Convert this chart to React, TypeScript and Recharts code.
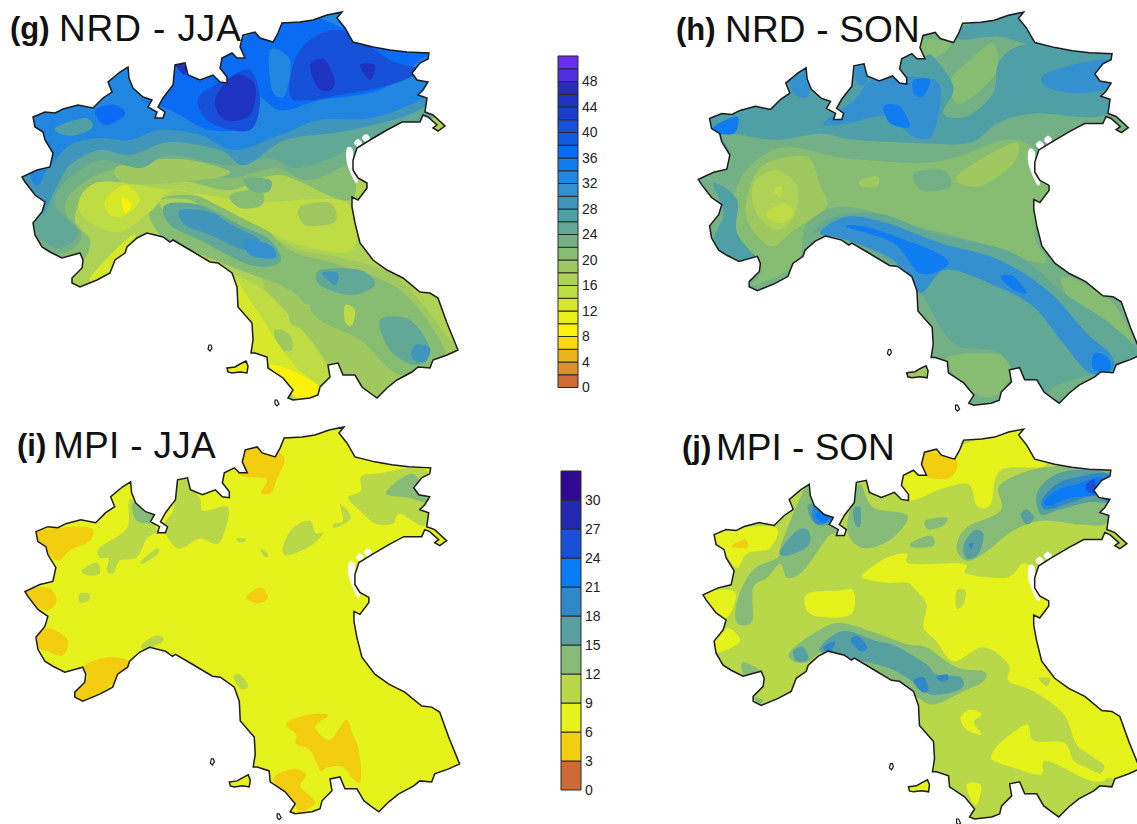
import { BarChart, Bar, XAxis, YAxis, ScatterChart, Scatter } from "recharts"

// scale bands, lowest first
const nrdBands = ["#cf6b35", "#dc8f2a", "#ecb41c", "#f8d90e", "#fbf10a", "#e8ef1a", "#d6e82a", "#bfdc45", "#aed255", "#9fc860", "#86bd72", "#74b086", "#62a896", "#4f9fa6", "#4095bb", "#3590cf", "#2186e0", "#0f7cf0", "#0a6bf5", "#0f5ce0", "#1650d8", "#1a40c8", "#1e34c0", "#2a2ab8", "#5030dc", "#6a2cf4"]
const nrdTicks = [0, 4, 8, 12, 16, 20, 24, 28, 32, 36, 40, 44, 48]
const mpiBands = ["#cd6b38", "#f2cd10", "#e6f21c", "#b8d84a", "#86bc78", "#58a0a0", "#3188c8", "#0a7af5", "#1a50d8", "#2428b0", "#300a90"]
const mpiTicks = [0, 3, 6, 9, 12, 15, 18, 21, 24, 27, 30]

// coastline and border, map units
const mainland = [[33,117],[45,112],[55,113],[63,109],[78,105],[93,108],[103,98],[112,92],[108,82],[120,72],[128,67],[129,78],[133,88],[143,97],[152,100],[148,107],[157,112],[155,118],[163,118],[165,112],[158,107],[163,98],[173,85],[175,65],[185,63],[188,75],[200,80],[213,75],[220,82],[227,83],[227,77],[220,68],[222,58],[232,53],[237,58],[245,58],[240,47],[243,35],[255,32],[260,38],[273,42],[278,33],[282,23],[300,22],[313,20],[327,15],[342,12],[337,18],[345,28],[353,42],[373,47],[390,50],[407,52],[429,53],[428,59],[420,63],[412,73],[417,80],[428,82],[423,90],[418,95],[427,98],[425,112],[433,115],[445,126],[438,131],[433,128],[437,125],[428,117],[423,115],[420,122],[402,122],[387,130],[370,140],[357,148],[353,160],[353,170],[358,178],[367,183],[367,188],[358,200],[352,197],[352,207],[355,223],[360,243],[373,260],[387,270],[403,278],[420,292],[430,293],[438,298],[447,323],[458,350],[447,355],[433,360],[430,368],[418,367],[412,372],[397,380],[387,388],[377,398],[370,393],[362,387],[355,375],[343,375],[338,363],[328,365],[330,377],[320,387],[318,395],[310,398],[293,400],[288,398],[293,390],[283,378],[268,368],[267,357],[255,353],[251,353],[253,340],[252,323],[238,307],[237,287],[232,273],[218,263],[210,262],[190,250],[173,240],[170,242],[163,237],[147,233],[137,238],[127,247],[125,253],[115,260],[110,273],[97,280],[80,287],[72,283],[72,278],[82,268],[83,260],[80,253],[62,258],[50,252],[42,247],[35,235],[33,223],[42,212],[45,202],[35,195],[25,182],[22,177],[37,170],[50,167],[53,153],[45,140],[43,132],[35,127]]
const elba = [[227,368],[235,367],[240,364],[246,361],[248,366],[247,373],[240,372],[232,373],[228,372]]
const pianosa = [[209,345],[211,345],[212,348],[210,351],[208,349]]
const montecristo = [[275,400],[277,400],[279,404],[277,406],[275,404]]
const lagoonWest = [[347,148],[353,150],[353,170],[358,180],[355,182],[347,163]]
const lagoonA = [[358,139],[362,143],[358,147],[354,143]]
const lagoonB = [[366,134],[370,138],[366,142],[362,138]]

const nrdJja = [
  [18, [[255,235],[300,250],[350,260],[400,280],[450,340],[460,352],[420,375],[380,400],[340,378],[300,330],[270,300]]],
  [18, [[20,230],[60,215],[85,235],[80,265],[40,262]]],
  [20, [[0,230],[40,265],[80,262],[90,240],[75,222],[85,198],[130,180],[180,180],[230,190],[280,175],[350,200],[365,145],[460,100],[460,0],[0,0]]],
  [20, [[150,205],[190,195],[250,215],[290,250],[340,265],[400,290],[440,340],[440,360],[400,375],[360,340],[320,320],[290,290],[240,270],[190,250],[160,235]]],
  [14, [[100,182],[170,190],[200,194],[260,202],[345,202],[352,250],[300,245],[250,222],[180,190],[150,212],[120,232],[90,222],[78,204]]],
  [14, [[130,245],[160,238],[230,272],[275,300],[330,372],[300,398],[250,350],[238,300],[210,262],[110,278]]],
  [16, [[160,200],[190,200],[200,212],[170,215]]],
  [20, [[230,195],[260,190],[262,205],[240,208]]],
  [18, [[300,207],[330,203],[335,222],[305,225]]],
  [18, [[290,310],[310,305],[305,325],[292,325]]],
  [18, [[320,340],[340,335],[345,350],[325,352]]],
  [18, [[275,330],[290,335],[292,350],[278,348]]],
  [12, [[105,200],[125,185],[140,200],[125,215],[110,215]]],
  [12, [[90,278],[115,250],[135,235],[125,260],[110,272],[98,282]]],
  [12, [[235,280],[250,300],[290,360],[320,390],[300,400],[270,365],[250,345],[240,310]]],
  [14, [[345,305],[355,310],[352,325],[345,322]]],
  [8, [[270,365],[295,372],[320,388],[300,400],[285,385]]],
  [8, [[122,198],[132,204],[125,213]]],
  [22, [[0,212],[38,248],[65,253],[82,235],[65,212],[74,190],[110,170],[145,175],[175,168],[230,178],[275,168],[310,180],[358,158],[430,115],[460,100],[460,0],[0,0]]],
  [18, [[115,168],[150,160],[190,160],[230,172],[200,180],[130,184]]],
  [22, [[245,178],[270,180],[268,192],[250,190]]],
  [24, [[0,200],[35,235],[60,248],[78,232],[55,205],[65,182],[100,160],[140,168],[170,155],[230,165],[270,158],[300,168],[355,148],[420,122],[460,100],[460,0],[0,0]]],
  [24, [[165,205],[200,205],[240,225],[270,240],[280,262],[250,265],[200,240],[170,225]]],
  [24, [[380,320],[410,320],[430,350],[415,365],[390,350]]],
  [24, [[320,270],[360,270],[375,285],[350,295],[320,285]]],
  [28, [[0,0],[15,190],[40,215],[55,190],[70,165],[100,150],[130,155],[170,142],[220,150],[245,165],[285,140],[340,132],[400,118],[430,105],[460,95],[460,0]]],
  [28, [[180,210],[210,212],[232,225],[260,240],[245,250],[210,235],[185,225]]],
  [30, [[245,240],[270,245],[275,258],[250,255]]],
  [28, [[322,273],[338,273],[335,285]]],
  [28, [[415,345],[430,348],[425,362],[412,358]]],
  [32, [[0,0],[30,175],[50,165],[70,145],[100,138],[130,140],[160,130],[200,135],[235,150],[280,135],[320,120],[370,118],[420,100],[460,70],[460,0]]],
  [26, [[55,128],[85,118],[92,128],[70,136]]],
  [36, [[140,100],[170,110],[210,130],[245,125],[250,90],[280,110],[320,100],[380,90],[420,60],[430,50],[350,30],[300,15],[240,40],[225,55],[200,75],[175,70],[160,100]]],
  [36, [[95,110],[115,105],[125,115],[105,125]]],
  [40, [[200,95],[225,80],[250,70],[260,100],[250,130],[215,125],[200,110]]],
  [40, [[290,95],[300,50],[340,30],[390,60],[420,70],[390,85],[340,95],[310,100]]],
  [32, [[270,50],[290,60],[285,95],[272,90]]],
  [44, [[215,100],[235,75],[255,85],[250,115],[225,120]]],
  [44, [[310,65],[325,60],[335,85],[320,90]]],
  [44, [[360,65],[375,65],[370,80]]],
  [44, [[175,65],[185,65],[185,75]]],
]

const nrdSon = [
  [20, [[60,184],[83,155],[112,145],[158,155],[188,158],[240,161],[276,155],[325,138],[352,148],[368,188],[352,230],[365,257],[345,257],[299,240],[240,224],[168,204],[129,220],[119,260],[73,283],[83,266],[53,230]]],
  [22, [[234,171],[263,168],[270,184],[243,188]]],
  [20, [[286,313],[309,303],[332,316],[325,336],[293,339]]],
  [20, [[266,355],[299,349],[332,355],[319,388],[293,388]]],
  [20, [[381,273],[427,296],[450,339],[427,336],[391,303]]],
  [20, [[270,79],[293,56],[312,43],[316,69],[293,95],[276,102]]],
  [20, [[243,39],[270,43],[257,56],[243,54]]],
  [18, [[73,184],[89,161],[129,155],[142,184],[148,204],[116,227],[93,243],[70,217]]],
  [18, [[276,174],[332,141],[332,161],[299,184]]],
  [18, [[181,178],[198,174],[198,184],[183,184]]],
  [16, [[76,181],[99,168],[119,184],[116,214],[99,227],[79,210]]],
  [14, [[89,210],[106,201],[116,210],[106,220],[93,217]]],
  [14, [[96,187],[104,184],[102,194]]],
  [26, [[24,174],[53,155],[47,132],[96,138],[142,132],[175,138],[234,141],[289,141],[316,122],[352,112],[424,112],[429,56],[352,43],[319,59],[312,92],[286,115],[263,112],[273,86],[253,56],[243,56],[227,53],[181,62],[129,66],[47,109],[34,122]]],
  [26, [[283,26],[342,13],[352,43],[316,36],[280,39]]],
  [26, [[37,181],[47,211],[37,240],[63,257],[83,260],[60,230],[60,197]]],
  [24, [[135,230],[155,214],[201,211],[253,230],[332,250],[381,289],[430,322],[454,355],[381,378],[348,395],[319,349],[273,339],[240,289],[201,253],[148,230]]],
  [30, [[142,230],[168,214],[207,220],[260,240],[319,257],[368,289],[404,329],[427,349],[430,365],[407,368],[381,339],[352,303],[316,283],[266,266],[240,289],[214,257],[168,237]]],
  [34, [[168,224],[188,224],[234,240],[263,253],[266,263],[240,270],[214,240]]],
  [34, [[319,273],[332,273],[345,289],[332,286]]],
  [34, [[411,349],[424,352],[427,365],[411,365]]],
  [30, [[145,122],[175,99],[194,79],[237,76],[260,86],[253,132],[234,135],[207,115],[168,122]]],
  [30, [[365,72],[424,59],[425,86],[394,92],[365,86]]],
  [30, [[112,76],[129,67],[130,95],[116,92]]],
  [30, [[176,66],[186,64],[188,82],[178,82]]],
  [34, [[37,125],[60,115],[58,131],[43,132]]],
  [34, [[234,79],[250,79],[243,95],[234,92]]],
  [34, [[204,105],[220,105],[230,125],[211,122]]],
]

const mpiJja = [
  [3, [[15,121],[47,114],[87,113],[87,126],[67,136],[55,146],[37,133]]],
  [3, [[15,178],[44,173],[54,186],[44,196],[30,190]]],
  [3, [[30,220],[47,214],[65,226],[60,241],[47,238],[30,231]]],
  [3, [[82,251],[107,243],[127,248],[114,266],[94,280],[66,290],[72,276],[85,263]]],
  [3, [[244,30],[281,41],[274,66],[269,78],[259,78],[264,64],[236,59]]],
  [3, [[244,183],[258,173],[266,183],[256,189]]],
  [3, [[284,310],[304,301],[326,301],[313,313],[328,326],[344,306],[351,321],[356,333],[359,353],[358,368],[351,365],[341,353],[326,353],[318,356],[308,336],[294,330],[294,320]]],
  [3, [[271,365],[291,355],[304,361],[298,373],[313,388],[298,398],[288,383]]],
  [9, [[97,133],[124,114],[126,89],[131,86],[154,114],[144,124],[134,143],[117,146],[111,159],[104,156],[106,144],[97,143]]],
  [9, [[79,156],[94,148],[97,159],[86,161]]],
  [9, [[77,179],[86,179],[86,186],[77,188]]],
  [9, [[162,109],[171,94],[177,60],[197,83],[201,96],[226,93],[217,128],[197,124],[177,134],[164,121]]],
  [9, [[139,146],[154,134],[156,139],[141,149]]],
  [9, [[281,131],[291,113],[308,106],[313,118],[321,119],[306,133],[284,141]]],
  [9, [[346,83],[359,76],[359,62],[374,59],[424,55],[432,99],[421,111],[398,99],[391,109],[374,109],[358,96]]],
  [9, [[338,89],[349,103],[334,113],[331,109],[341,106]]],
  [9, [[139,231],[154,221],[161,226],[144,236]]],
  [9, [[231,263],[237,260],[246,271],[239,275]]],
  [9, [[258,134],[266,139],[263,143]]],
  [9, [[234,124],[244,124],[239,128]]],
  [12, [[131,88],[152,99],[154,108],[134,106]]],
  [12, [[384,78],[411,59],[425,86],[406,83]]],
]

const mpiSon = [
  [6, [[222,57],[242,35],[282,27],[342,10],[365,47],[319,53],[309,87],[295,88],[287,67],[259,72],[232,83],[222,77]]],
  [6, [[34,120],[47,112],[94,110],[89,130],[66,136],[56,150],[44,136]]],
  [6, [[18,176],[52,173],[52,190],[44,200],[32,193]]],
  [6, [[30,226],[46,210],[59,223],[39,234]]],
  [6, [[182,156],[205,140],[225,136],[229,146],[282,146],[285,156],[325,160],[345,146],[372,183],[359,226],[372,259],[432,292],[465,349],[425,359],[412,339],[395,326],[382,296],[352,273],[327,263],[327,246],[302,229],[272,243],[255,223],[242,209],[245,186],[232,170],[225,165],[205,165],[184,161]]],
  [9, [[275,173],[284,173],[282,186],[275,190]]],
  [9, [[357,260],[368,260],[365,268]]],
  [6, [[126,176],[156,173],[172,173],[170,196],[142,199],[126,193]]],
  [6, [[310,336],[319,324],[345,306],[352,322],[382,324],[392,342],[405,349],[425,359],[409,362],[365,342],[359,356],[332,349],[312,342]]],
  [6, [[285,366],[299,366],[297,382],[292,385]]],
  [6, [[279,299],[289,291],[300,296],[292,304],[300,316],[285,311]]],
  [9, [[409,339],[422,346],[419,354],[407,349]]],
  [3, [[240,47],[247,35],[275,43],[269,60],[247,60]]],
  [3, [[51,128],[64,122],[66,130],[56,130]]],
  [12, [[56,183],[71,153],[96,140],[99,130],[116,87],[129,70],[156,110],[146,120],[122,153],[106,160],[99,146],[86,160],[72,170],[71,203],[56,205]]],
  [12, [[166,113],[172,80],[179,67],[192,90],[225,97],[219,113],[202,126],[180,130]]],
  [12, [[275,130],[285,110],[319,93],[319,67],[365,50],[429,55],[427,103],[399,107],[362,103],[332,113],[302,136],[285,143]]],
  [12, [[244,103],[265,100],[262,108],[247,112]]],
  [12, [[230,125],[249,118],[252,128],[232,130]]],
  [12, [[109,233],[136,213],[159,205],[192,214],[225,226],[245,229],[275,249],[302,253],[302,263],[282,273],[252,286],[232,276],[212,263],[172,241],[142,234],[126,244],[112,243]]],
  [12, [[62,244],[79,253],[66,259],[61,253]]],
  [12, [[74,279],[82,282],[76,287]]],
  [15, [[99,133],[116,113],[127,113],[127,128],[106,138]]],
  [15, [[127,87],[139,90],[154,103],[139,108],[129,100]]],
  [15, [[172,92],[179,90],[179,108],[174,107]]],
  [15, [[282,128],[292,113],[302,117],[297,136],[285,141]]],
  [15, [[339,97],[345,92],[352,100],[345,107]]],
  [15, [[355,77],[369,60],[392,53],[427,57],[429,83],[405,85],[375,93],[359,97]]],
  [15, [[112,233],[122,229],[127,241],[116,243]]],
  [15, [[139,229],[162,213],[195,223],[215,228],[245,246],[255,256],[279,259],[279,271],[249,276],[225,259],[205,249],[172,241],[146,236]]],
  [18, [[131,92],[137,88],[152,100],[139,107],[132,103]]],
  [18, [[360,83],[375,67],[395,60],[427,57],[429,85],[412,78],[389,85],[365,92]]],
  [18, [[169,223],[176,218],[186,229],[179,233]]],
  [18, [[142,229],[154,223],[149,234]]],
  [18, [[232,263],[242,259],[247,271],[241,274]]],
  [18, [[255,259],[265,256],[267,261],[260,263]]],
  [18, [[287,127],[292,125],[290,131]]],
  [21, [[362,85],[375,73],[395,67],[419,60],[415,77],[389,80],[369,88]]],
  [21, [[134,97],[141,92],[149,100],[141,105]]],
  [24, [[404,68],[412,62],[414,75],[407,75]]],
]

const toPoints = (ring) => ring.map(([x, y]) => ({ x, y }))
const noDot = () => <g />

// catmull-rom through the scaled points, closed
function smoothPath(pts) {
  const n = pts.length
  let d = `M${pts[0].x},${pts[0].y}`
  for (let i = 0; i < n; i++) {
    const p0 = pts[(i - 1 + n) % n]
    const p1 = pts[i]
    const p2 = pts[(i + 1) % n]
    const p3 = pts[(i + 2) % n]
    d += `C${p1.x + (p2.x - p0.x) / 6},${p1.y + (p2.y - p0.y) / 6} ${p2.x - (p3.x - p1.x) / 6},${p2.y - (p3.y - p1.y) / 6} ${p2.x},${p2.y}`
  }
  return d + "Z"
}

const sharpPath = (pts) => "M" + pts.map((q) => `${q.x},${q.y}`).join("L") + "Z"

function ring(key, data, line) {
  return <Scatter key={key} data={toPoints(data)} shape={noDot} isAnimationActive={false} legendType="none" line={line} />
}

function MapPanel({ id, left, top, scaleX, scaleY, bands, step, baseLevel, islandLevel, zones }) {
  const clipId = `coast-${id}`
  const color = (level) => bands[Math.floor(level / step)]
  const blob = (fill) => (p) => <path d={smoothPath(p.points)} fill={fill} stroke="none" clipPath={`url(#${clipId})`} />
  const coast = (fill, lineWidth) => (p) => <path d={sharpPath(p.points)} fill={fill} stroke={lineWidth ? "#1c1c1c" : "none"} strokeWidth={lineWidth} />
  const clip = (p) => (
    <defs>
      <clipPath id={clipId}>
        <path d={sharpPath(p.points)} />
      </clipPath>
    </defs>
  )
  return (
    <div style={{ position: "absolute", left, top, filter: "blur(0.6px)" }}>
      <ScatterChart width={480 * scaleX} height={420 * scaleY} margin={{ top: 0, right: 0, bottom: 0, left: 0 }}>
        <XAxis type="number" dataKey="x" domain={[0, 480]} hide />
        <YAxis type="number" dataKey="y" domain={[0, 420]} reversed hide />
        {ring("clip", mainland, clip)}
        {ring("land", mainland, coast(color(baseLevel), 0))}
        {zones.map(([level, data], i) => ring(`z${i}`, data, blob(color(level))))}
        {[lagoonWest, lagoonA, lagoonB].map((data, i) => ring(`l${i}`, data, blob("#ffffff")))}
        {ring("coast", mainland, coast("none", 1.5))}
        {ring("elba", elba, coast(color(islandLevel), 1.5))}
        {ring("pianosa", pianosa, coast("none", 1.2))}
        {ring("montecristo", montecristo, coast("none", 1.2))}
      </ScatterChart>
    </div>
  )
}

function ColorScale({ left, top, plotHeight, bands, step, ticks }) {
  const row = { name: "scale" }
  bands.forEach((_, i) => {
    row[`b${i}`] = step
  })
  return (
    <div style={{ position: "absolute", left, top: top - 12 }}>
      <BarChart width={56} height={plotHeight + 24} data={[row]} barCategoryGap={0} margin={{ top: 12, right: 0, bottom: 12, left: 1 }}>
        <XAxis dataKey="name" hide />
        <YAxis
          orientation="right"
          width={35}
          type="number"
          domain={[0, bands.length * step]}
          ticks={ticks}
          interval={0}
          axisLine={false}
          tickLine={false}
          tickSize={0}
          tickMargin={4}
          tick={{ fontSize: 14, fill: "#222", fontFamily: "Liberation Sans" }}
        />
        {bands.map((c, i) => (
          <Bar key={i} dataKey={`b${i}`} stackId="scale" fill={c} stroke="#2a2a2a" strokeWidth={1} isAnimationActive={false} />
        ))}
      </BarChart>
    </div>
  )
}

function Title({ x, baseline, tag, text, textX, spacing }) {
  const base = { position: "absolute", whiteSpace: "nowrap", lineHeight: "40px", color: "#111" }
  return (
    <>
      <span style={{ ...base, top: baseline - 30.7, left: x, fontSize: 31, fontWeight: 700 }}>{tag}</span>
      <span style={{ ...base, top: baseline - 31.3, left: textX, fontSize: 37, letterSpacing: spacing }}>{text}</span>
    </>
  )
}

export default function App() {
  return (
    <div style={{ position: "absolute", left: 0, top: 0, width: 1137, height: 824, overflow: "hidden", background: "#fff", fontFamily: "Liberation Sans, Arial, sans-serif" }}>
      <MapPanel id="g" left={0} top={0} scaleX={1} scaleY={1} bands={nrdBands} step={2} baseLevel={16} islandLevel={10} zones={nrdJja} />
      <MapPanel id="h" left={675.6} top={0} scaleX={1.0165} scaleY={1.013} bands={nrdBands} step={2} baseLevel={22} islandLevel={18} zones={nrdSon} />
      <MapPanel id="i" left={3} top={415} scaleX={0.997} scaleY={0.997} bands={mpiBands} step={3} baseLevel={6} islandLevel={6} zones={mpiJja} />
      <MapPanel id="j" left={681} top={417} scaleX={1.002} scaleY={1.005} bands={mpiBands} step={3} baseLevel={9} islandLevel={6} zones={mpiSon} />
      <ColorScale left={557} top={55.5} plotHeight={331.5} bands={nrdBands} step={2} ticks={nrdTicks} />
      <ColorScale left={560} top={471} plotHeight={319} bands={mpiBands} step={3} ticks={mpiTicks} />
      <Title x={10} baseline={40} tag="(g)" text="NRD - JJA" textX={59} spacing={0.9} />
      <Title x={676} baseline={41} tag="(h)" text="NRD - SON" textX={725} spacing={0.2} />
      <Title x={17} baseline={457} tag="(i)" text="MPI - JJA" textX={53} spacing={0.3} />
      <Title x={682} baseline={459} tag="(j)" text="MPI - SON" textX={716} spacing={0} />
    </div>
  )
}
